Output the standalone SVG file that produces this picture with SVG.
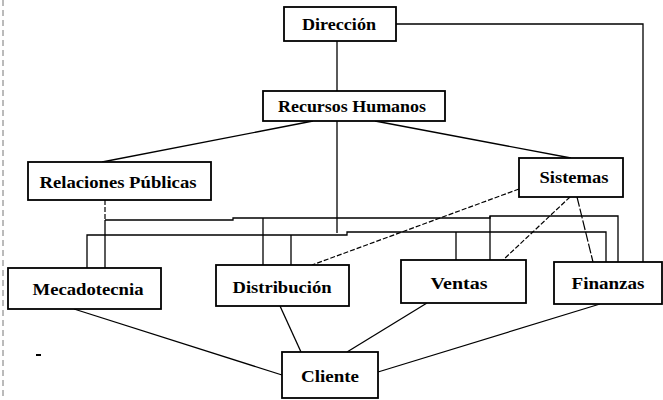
<svg xmlns="http://www.w3.org/2000/svg" width="663" height="400" viewBox="0 0 663 400">
  <style>
    .box { fill: #ffffff; stroke: #000000; stroke-width: 1.8; }
    .lbl { font-family: "Liberation Serif", "DejaVu Serif", serif; font-weight: bold; font-size: 17px; fill: #000000; text-anchor: middle; }
    .wire { fill: none; stroke: #000000; stroke-width: 1.3; }
    .dash { fill: none; stroke: #000000; stroke-width: 1.2; stroke-dasharray: 5 2; }
    .long { fill: none; stroke: #000000; stroke-width: 1.2; stroke-dasharray: 10 2; }
    .edge { fill: none; stroke: #777777; stroke-width: 1; stroke-dasharray: 6 4; }
  </style>
  <rect width="663" height="400" fill="#ffffff"/>

  <!-- margin marks -->
  <line class="edge" x1="3" y1="0" x2="3" y2="400"/>
  <line x1="36" y1="355" x2="41" y2="355" stroke="#000000" stroke-width="2"/>

  <g id="connectors">
    <!-- Direccion down to Recursos Humanos and on to the lower bus -->
    <line class="wire" x1="337" y1="41" x2="337" y2="91"/>
    <line class="wire" x1="337" y1="121" x2="337" y2="233"/>
    <!-- Direccion right to Finanzas -->
    <polyline class="wire" points="396,24 643,24 643,262"/>
    <!-- Recursos Humanos to Relaciones Publicas and Sistemas -->
    <line class="wire" x1="313" y1="121" x2="102" y2="162"/>
    <line class="wire" x1="375" y1="121" x2="571" y2="158"/>
    <!-- Relaciones Publicas down to Mecadotecnia -->
    <line class="dash" x1="105" y1="200" x2="105" y2="220"/>
    <line class="wire" x1="105" y1="220" x2="105" y2="268"/>
    <!-- upper bus -->
    <polyline class="wire" points="105,220 233,220 233,218 490,218 490,216 618,216 618,262"/>
    <line class="wire" x1="263" y1="218" x2="263" y2="265"/>
    <line class="wire" x1="490" y1="216" x2="490" y2="260"/>
    <!-- lower bus -->
    <polyline class="wire" points="87,268 87,235 347,235 347,232 606,232 606,262"/>
    <line class="wire" x1="291" y1="235" x2="291" y2="265"/>
    <line class="wire" x1="456" y1="232" x2="456" y2="260"/>
    <!-- Sistemas to Distribucion, Ventas, Finanzas -->
    <line class="dash" x1="519" y1="189" x2="312" y2="265"/>
    <line class="dash" x1="570" y1="197" x2="503" y2="260"/>
    <line class="long" x1="577" y1="197" x2="593" y2="262"/>
    <!-- lower row to Cliente -->
    <line class="wire" x1="74" y1="309" x2="282" y2="375"/>
    <line class="wire" x1="280" y1="306" x2="301" y2="352"/>
    <line class="wire" x1="427" y1="303" x2="347" y2="352"/>
    <line class="wire" x1="600" y1="304" x2="378" y2="372"/>
  </g>

  <g id="direccion">
    <rect class="box" x="284" y="7" width="112" height="34"/>
    <text class="lbl" x="339" y="30" textLength="74" lengthAdjust="spacingAndGlyphs">Dirección</text>
  </g>
  <g id="recursos-humanos">
    <rect class="box" x="263" y="91" width="182" height="30"/>
    <text class="lbl" x="352" y="112" textLength="148" lengthAdjust="spacingAndGlyphs">Recursos Humanos</text>
  </g>
  <g id="relaciones-publicas">
    <rect class="box" x="28" y="162" width="183" height="38"/>
    <text class="lbl" x="118" y="188" textLength="157" lengthAdjust="spacingAndGlyphs">Relaciones Públicas</text>
  </g>
  <g id="sistemas">
    <rect class="box" x="519" y="158" width="104" height="39"/>
    <text class="lbl" x="574" y="183" textLength="69" lengthAdjust="spacingAndGlyphs">Sistemas</text>
  </g>
  <g id="mecadotecnia">
    <rect class="box" x="8" y="268" width="153" height="41"/>
    <text class="lbl" x="88" y="295" textLength="111" lengthAdjust="spacingAndGlyphs">Mecadotecnia</text>
  </g>
  <g id="distribucion">
    <rect class="box" x="216" y="265" width="133" height="41"/>
    <text class="lbl" x="282" y="293" textLength="99" lengthAdjust="spacingAndGlyphs">Distribución</text>
  </g>
  <g id="ventas">
    <rect class="box" x="401" y="260" width="125" height="43"/>
    <text class="lbl" x="459" y="289" textLength="57" lengthAdjust="spacingAndGlyphs">Ventas</text>
  </g>
  <g id="finanzas">
    <rect class="box" x="554" y="262" width="108" height="42"/>
    <text class="lbl" x="608" y="289" textLength="73" lengthAdjust="spacingAndGlyphs">Finanzas</text>
  </g>
  <g id="cliente">
    <rect class="box" x="282" y="352" width="96" height="46"/>
    <text class="lbl" x="330" y="382" textLength="58" lengthAdjust="spacingAndGlyphs">Cliente</text>
  </g>
</svg>
